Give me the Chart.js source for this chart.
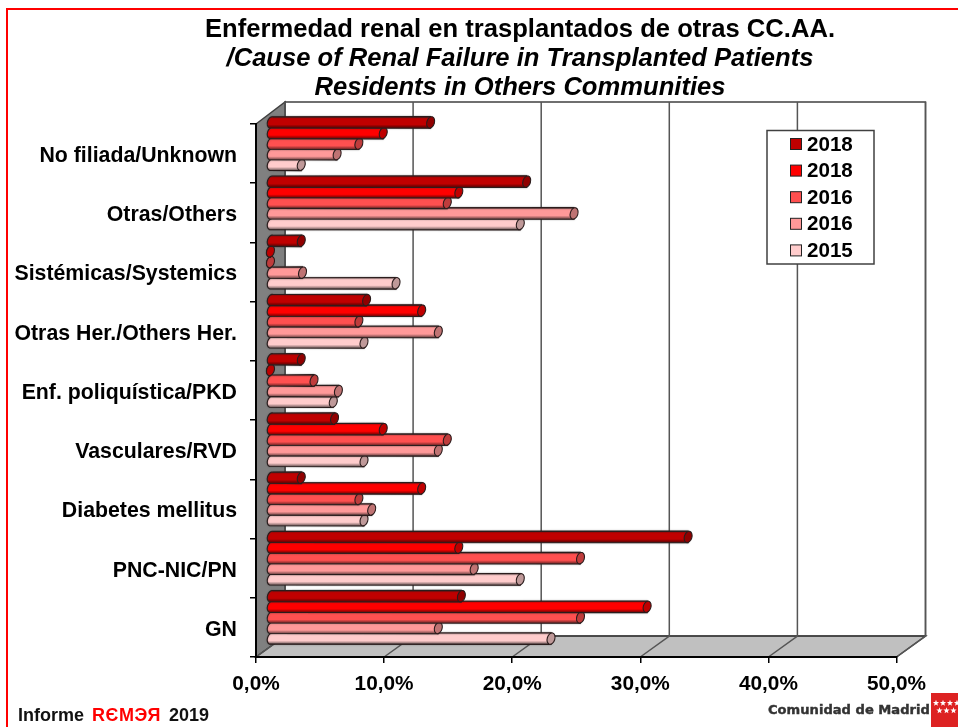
<!DOCTYPE html>
<html>
<head>
<meta charset="utf-8">
<title>Enfermedad renal en trasplantados</title>
<script src="https://cdn.jsdelivr.net/npm/chart.js@4/dist/chart.umd.min.js"></script>
<style>
  html, body { margin: 0; padding: 0; background: #fff; overflow: hidden; }
  canvas { display: block; }
</style>
</head>
<body>
<canvas id="chart" width="958" height="727"></canvas>
<script>
'use strict';

var categories = ['No filiada/Unknown', 'Otras/Others', 'Sistémicas/Systemics', 'Otras Her./Others Her.',
  'Enf. poliquística/PKD', 'Vasculares/RVD', 'Diabetes mellitus', 'PNC-NIC/PN', 'GN'];
var seriesLabels = ['2018', '2018', '2016', '2016', '2015'];
var values2018a = [12.5, 20.0, 2.4, 7.5, 2.4, 5.0, 2.4, 32.6, 14.9];
var values2018b = [8.8, 14.7, 0, 11.8, 0, 8.8, 11.8, 14.7, 29.4];
var values2016a = [6.9, 13.8, 0, 6.9, 3.4, 13.8, 6.9, 24.2, 24.2];
var values2016b = [5.2, 23.7, 2.5, 13.1, 5.3, 13.1, 7.9, 15.9, 13.1];
var values2015 = [2.4, 19.5, 9.8, 7.3, 4.9, 7.3, 7.3, 19.5, 21.9];
var xTicks = [0, 10, 20, 30, 40, 50];

var barColors = ['#C00000', '#FF0000', '#FF5050', '#FF9999', '#FFCCCC'];
var titleLines = ['Enfermedad renal en trasplantados de otras CC.AA.',
  '/Cause of Renal Failure in Transplanted Patients',
  'Residents in Others Communities'];

var FONT = '"Liberation Sans", Arial, sans-serif';
var depthX = 29, depthY = 21;

function shade(hex, f) {
  var n = parseInt(hex.slice(1), 16);
  return 'rgb(' + Math.round((n >> 16) * f) + ',' + Math.round(((n >> 8) & 255) * f) + ',' + Math.round((n & 255) * f) + ')';
}

// walls and floor of the 3D box, behind everything
var boxPlugin = {
  id: 'box',
  beforeDraw: function (chart) {
    var c = chart.ctx, a = chart.chartArea, x = chart.scales.x;
    c.save();
    c.strokeStyle = '#404040';
    c.lineWidth = 1.5;
    // left wall
    c.fillStyle = '#808080';
    c.beginPath();
    c.moveTo(a.left, a.top);
    c.lineTo(a.left + depthX, a.top - depthY - 1);
    c.lineTo(a.left + depthX, a.bottom - depthY);
    c.lineTo(a.left, a.bottom);
    c.closePath();
    c.fill();
    c.stroke();
    // floor
    c.fillStyle = '#C0C0C0';
    c.beginPath();
    c.moveTo(a.left, a.bottom);
    c.lineTo(a.left + depthX, a.bottom - depthY);
    c.lineTo(a.right + depthX, a.bottom - depthY);
    c.lineTo(a.right, a.bottom);
    c.closePath();
    c.fill();
    c.stroke();
    // back wall outline and grid
    c.strokeRect(a.left + depthX, a.top - depthY - 1, a.right - a.left, a.bottom - a.top + 1);
    c.strokeStyle = '#555555';
    xTicks.forEach(function (v) {
      var px = x.getPixelForValue(v);
      c.beginPath();
      c.moveTo(px + depthX, a.top - depthY - 1);
      c.lineTo(px + depthX, a.bottom - depthY);
      c.lineTo(px, a.bottom);
      c.stroke();
    });
    c.restore();
  }
};

// bars as cylinders, sitting halfway into the box
var cylinderPlugin = {
  id: 'cylinder',
  beforeDatasetDraw: function (chart, args) {
    var c = chart.ctx, color = barColors[args.index];
    var dx = 14.5, dy = -10;
    args.meta.data.forEach(function (bar) {
      var p = bar.getProps(['x', 'y', 'base', 'height'], true);
      var h = p.height, y = p.y + dy, x0 = p.base + dx, x1 = p.x + dx;
      var rx = 3.8, ry = h / 2, tilt = 0.3;
      var g = c.createLinearGradient(0, y - ry, 0, y + ry);
      g.addColorStop(0, shade(color, 0.75));
      g.addColorStop(0.2, color);
      g.addColorStop(0.68, color);
      g.addColorStop(1, shade(color, 0.42));
      c.save();
      c.shadowColor = 'rgba(60,60,60,0.5)';
      c.shadowBlur = 1.5;
      c.fillStyle = g;
      c.strokeStyle = '#2a1c1c';
      c.lineWidth = 1.1;
      c.beginPath();
      c.ellipse(x0, y, rx, ry, tilt, Math.PI / 2, Math.PI * 1.5);
      c.lineTo(x1, y - ry);
      c.lineTo(x1, y + ry);
      c.closePath();
      c.fill();
      c.stroke();
      c.shadowBlur = 0;
      c.fillStyle = shade(color, 0.75);
      c.beginPath();
      c.ellipse(x1, y, rx, ry, tilt, 0, Math.PI * 2);
      c.fill();
      c.stroke();
      c.restore();
    });
    return false;
  }
};

function star(c, cx, cy, r) {
  c.beginPath();
  for (var i = 0; i < 10; i++) {
    var a = -Math.PI / 2 + i * Math.PI / 5, rr = i % 2 ? r * 0.42 : r;
    c.lineTo(cx + rr * Math.cos(a), cy + rr * Math.sin(a));
  }
  c.closePath();
  c.fill();
}

// title, legend box, page frame and footer
var textPlugin = {
  id: 'texts',
  afterDraw: function (chart) {
    var c = chart.ctx;
    c.save();
    // red frame
    c.strokeStyle = '#FF0000';
    c.lineWidth = 2;
    c.beginPath();
    c.moveTo(7, 727);
    c.lineTo(7, 9);
    c.lineTo(958, 9);
    c.stroke();

    // title
    c.fillStyle = '#000';
    c.textAlign = 'center';
    c.textBaseline = 'alphabetic';
    c.font = 'bold 25.6px ' + FONT;
    c.fillText(titleLines[0], 520, 37);
    c.font = 'italic bold 25.6px ' + FONT;
    c.fillText(titleLines[1], 520, 66);
    c.fillText(titleLines[2], 520, 95);

    // legend
    c.fillStyle = '#fff';
    c.fillRect(767, 130.5, 107, 133.5);
    c.strokeStyle = '#404040';
    c.lineWidth = 1.5;
    c.strokeRect(767, 130.5, 107, 133.5);
    c.textAlign = 'left';
    c.textBaseline = 'middle';
    c.font = 'bold 20.6px ' + FONT;
    seriesLabels.forEach(function (label, i) {
      var y = 144 + i * 26.6;
      c.fillStyle = barColors[i];
      c.strokeStyle = '#222';
      c.lineWidth = 1;
      c.fillRect(790.5, y - 5.5, 11, 11);
      c.strokeRect(790.5, y - 5.5, 11, 11);
      c.fillStyle = '#000';
      c.fillText(label, 807, y + 1);
    });

    // footer
    c.textBaseline = 'alphabetic';
    c.font = 'bold 18px ' + FONT;
    c.fillStyle = '#111';
    c.fillText('Informe', 18, 721);
    c.fillText('2019', 169, 721);
    c.fillStyle = '#FF0000';
    c.letterSpacing = '0.6px';
    c.fillText('RЄMЭЯ', 92, 721);
    c.letterSpacing = '0px';

    // logo
    c.fillStyle = '#333';
    c.strokeStyle = '#333';
    c.lineWidth = 0.4;
    c.font = 'bold 13.1px "DejaVu Sans", sans-serif';
    c.fillText('Comunidad de Madrid', 768, 714);
    c.strokeText('Comunidad de Madrid', 768, 714);
    c.fillStyle = '#DD2222';
    c.fillRect(931, 693, 27, 34);
    c.fillStyle = '#fff';
    for (var i = 0; i < 4; i++) star(c, 936 + i * 7, 703, 3.3);
    for (var j = 0; j < 3; j++) star(c, 939.5 + j * 7, 710.5, 3.3);
    c.restore();
  }
};

new Chart(document.getElementById('chart').getContext('2d'), {
  type: 'bar',
  data: {
    labels: categories,
    datasets: [values2018a, values2018b, values2016a, values2016b, values2015].map(function (vals, i) {
      return { label: seriesLabels[i], data: vals, backgroundColor: barColors[i] };
    })
  },
  options: {
    indexAxis: 'y',
    responsive: false,
    animation: false,
    events: [],
    layout: { padding: { top: 124, right: 61.5, left: 0, bottom: 0 } },
    datasets: { bar: { categoryPercentage: 0.895, barPercentage: 1.1, clip: false } },
    scales: {
      x: {
        min: 0,
        max: 50,
        afterFit: function (scale) { scale.height = 70; },
        afterBuildTicks: function (scale) { scale.ticks = xTicks.map(function (v) { return { value: v }; }); },
        grid: { drawOnChartArea: false, color: '#000', tickLength: 6, lineWidth: 1.5 },
        border: { color: '#000', width: 2 },
        ticks: {
          maxRotation: 0,
          padding: 9,
          color: '#000',
          font: { family: FONT, size: 20.8, weight: 'bold' },
          callback: function (v) { return v.toFixed(1).replace('.', ',') + '%'; }
        }
      },
      y: {
        afterFit: function (scale) { scale.width = 256; },
        grid: { drawOnChartArea: false, color: '#000', tickLength: 6, lineWidth: 1.5 },
        border: { color: '#000', width: 2 },
        ticks: {
          padding: 13,
          labelOffset: 2.5,
          color: '#000',
          autoSkip: false,
          font: { family: FONT, size: 21.3, weight: 'bold' }
        }
      }
    },
    plugins: {
      legend: { display: false },
      title: { display: false },
      tooltip: { enabled: false }
    }
  },
  plugins: [boxPlugin, cylinderPlugin, textPlugin]
});
</script>
</body>
</html>
